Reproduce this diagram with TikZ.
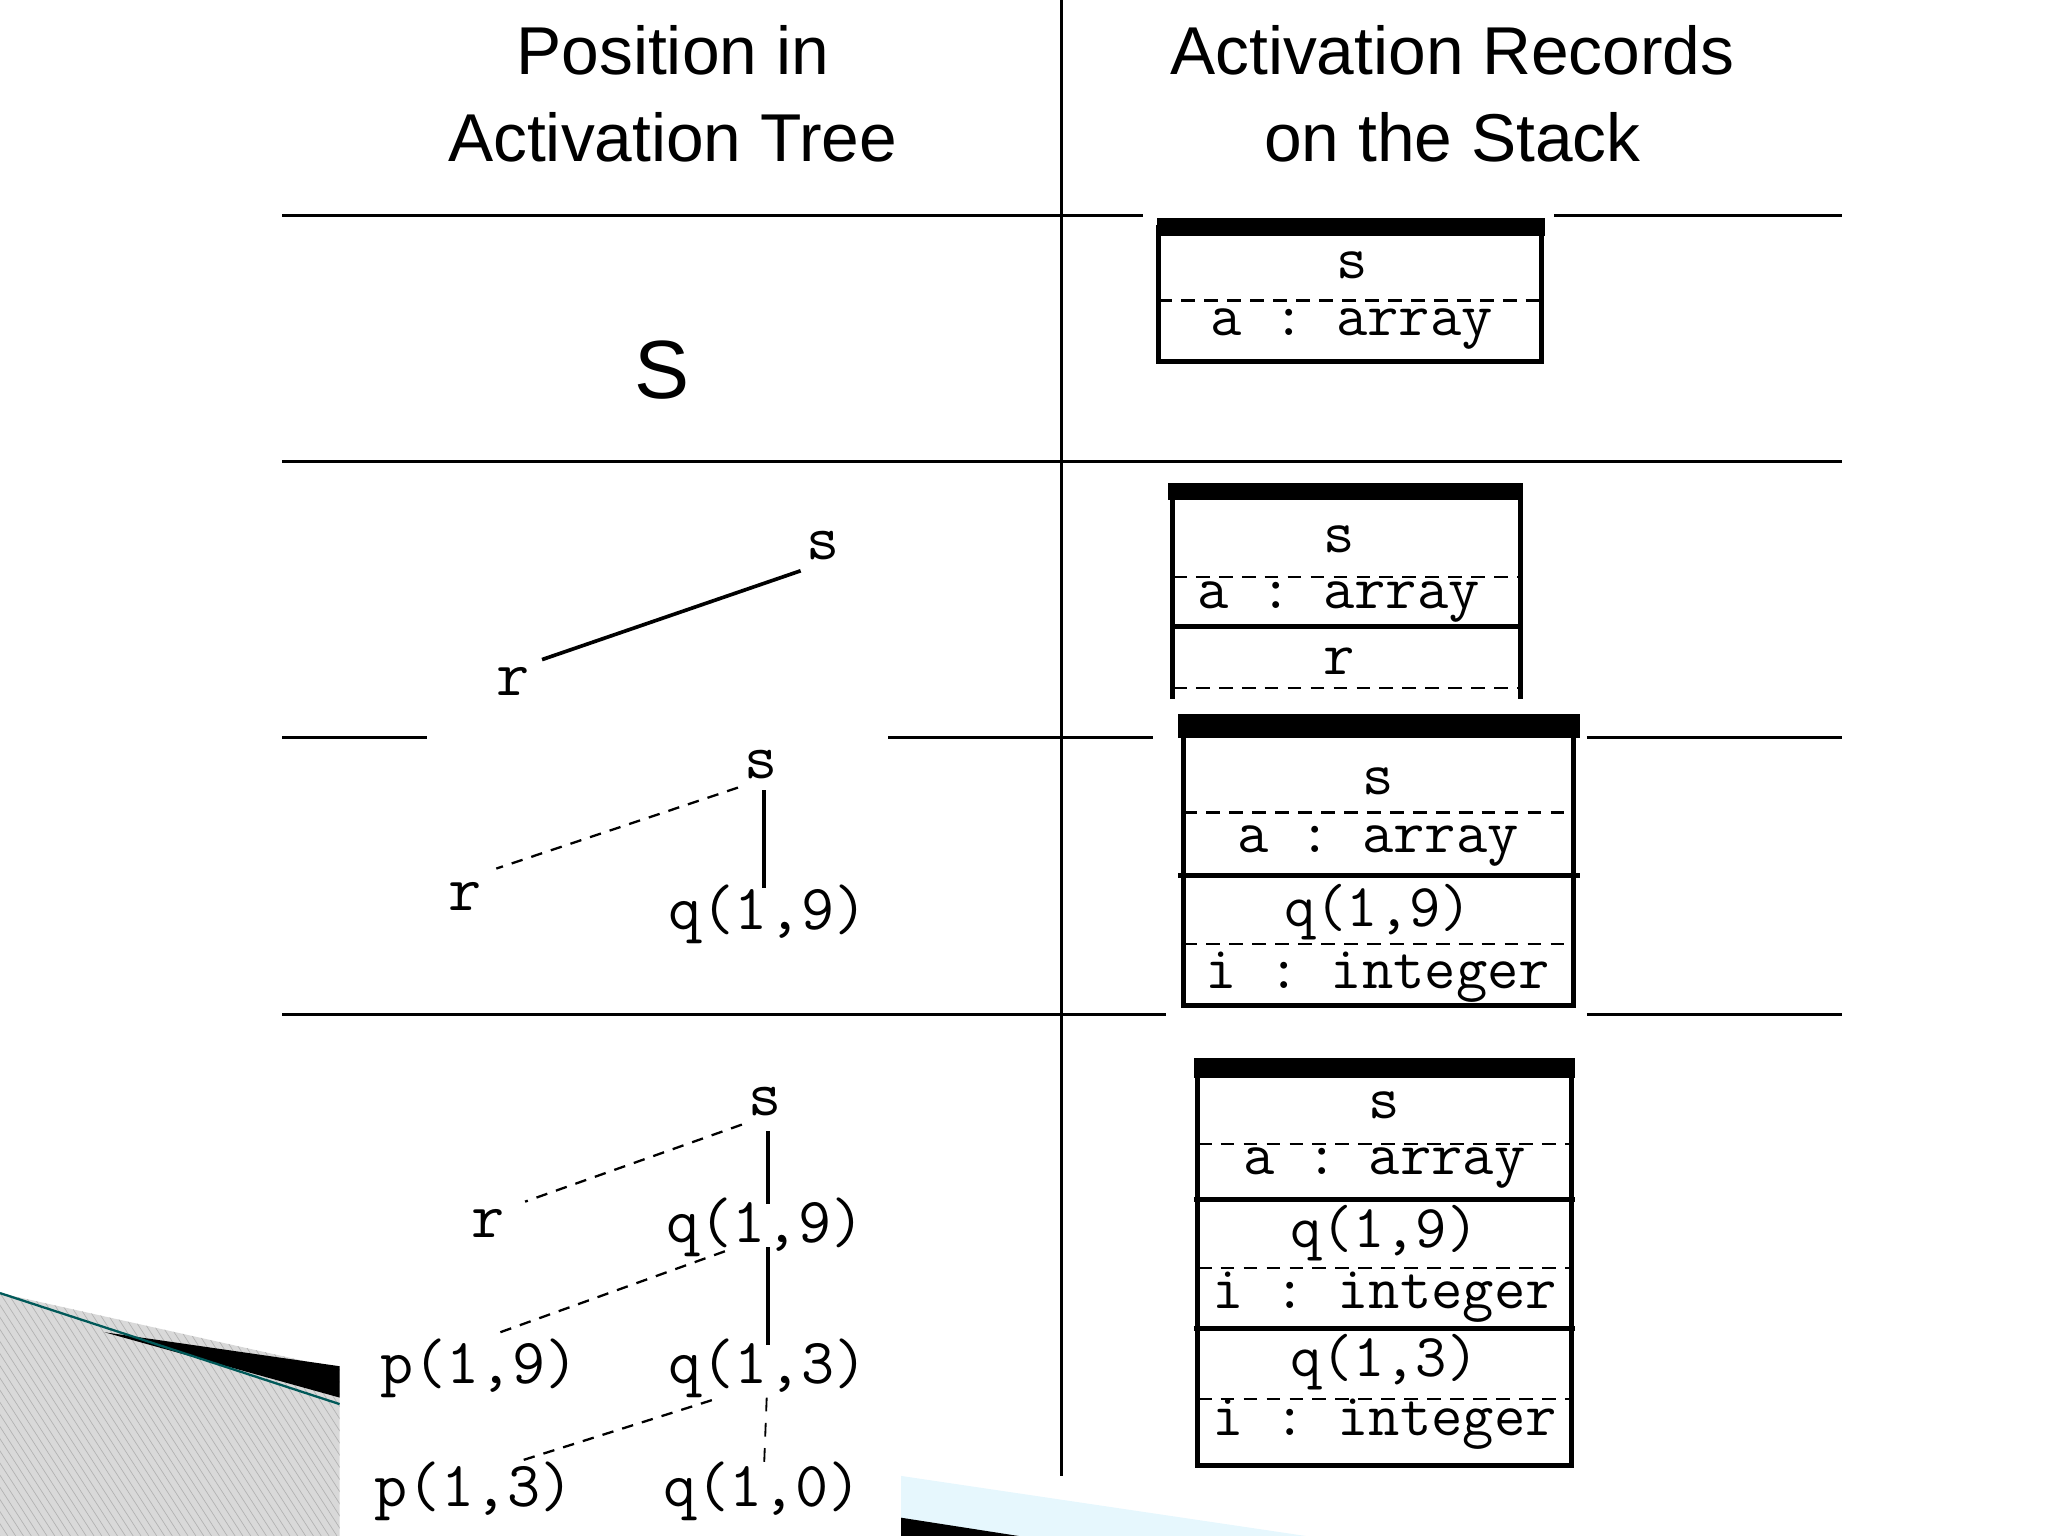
\documentclass[tikz,border=0pt]{standalone}
\usepackage{fontspec}
\setmainfont{Liberation Sans}
\setmonofont{Latin Modern Mono}
\begin{document}
\begin{tikzpicture}[x=0.02cm,y=-0.02cm,
  hdr/.style={font=\fontsize{29.5}{34}\selectfont,align=center},
  mono/.style={font=\fontsize{26.5}{30}\ttfamily,inner sep=1pt},
  tmono/.style={font=\fontsize{28}{32}\ttfamily,inner sep=2pt},
  rule/.style={line width=1.3pt},
  bx/.style={line width=2.2pt},
  bar/.style={fill=black},
  dsh/.style={dash pattern=on 6pt off 4pt,line width=1pt},
  edg/.style={line width=1.6pt},
  dedge/.style={dash pattern=on 5pt off 4pt,line width=1pt}]
\useasboundingbox (0,0) rectangle (1568,1176);
% decoration bottom left
\fill[gray!30] (0,990) -- (260,1048) -- (260,1176) -- (0,1176) -- cycle;
\begin{scope}
\clip (0,990) -- (260,1048) -- (260,1176) -- (0,1176) -- cycle;
\foreach \i in {0,6,...,500} \draw[gray!60,line width=0.3pt] (\i-120,990) -- (\i,1176);
\end{scope}
\fill[black] (80,1020) -- (260,1046) -- (260,1070) -- cycle;
\draw[teal!70!black,line width=1pt] (0,990) -- (260,1075);
\fill[cyan!10] (690,1130) -- (1000,1176) -- (690,1176) -- cycle;
\fill[black] (690,1162) -- (780,1176) -- (690,1176) -- cycle;
% headers
\node[hdr] (h1) at (515,72) {Position in\\[4pt]Activation Tree};
\node[hdr] (h2) at (1112,72) {Activation Records\\[4pt]on the Stack};
% table rules
\draw[rule] (813,0) -- (813,1130);
\draw[rule] (216,165) -- (875,165) (1190,165) -- (1410,165);
\draw[rule] (216,353) -- (1410,353);
\draw[rule] (216,565) -- (327,565) (680,565) -- (883,565) (1215,565) -- (1410,565);
\draw[rule] (216,777) -- (893,777) (1215,777) -- (1410,777);
% row 1
\node[font=\fontsize{36}{40}\selectfont] (bigs) at (507,283) {S};
\draw[bx] (887,174) rectangle (1180,277);
\fill[bar] (886,167) rectangle (1183,181);
\draw[dsh] (887,230) -- (1180,230);
\node[mono] (b1s) at (1035,203) {s};
\node[mono] (b1a) at (1035,252) {a : array};
% row 2
\node[tmono] (t2s) at (630,418) {s};
\node[tmono] (t2r) at (393,522) {r};
\draw[edg] (613,437) -- (415,505);
\fill[bar] (894,370) rectangle (1166,383);
\draw[bx] (898,376) -- (898,535) (1164,376) -- (1164,535);
\draw[dsh] (898,442) -- (1164,442);
\draw[bx] (898,480) -- (1164,480);
\draw[dsh] (898,527) -- (1164,527);
\node[mono] (b2s) at (1025,413) {s};
\node[mono] (b2a) at (1025,461) {a : array};
\node[mono] (b2r) at (1025,506) {r};
% row 3
\node[tmono] (t3s) at (583,585) {s};
\node[tmono] (t3r) at (356,686) {r};
\node[tmono] (t3q) at (588,700) {q(1,9)};
\draw[dedge] (565,603) -- (380,665);
\draw[edg] (585,605) -- (585,680);
\fill[bar] (902,547) rectangle (1210,565);
\draw[bx] (906,556) rectangle (1205,770);
\draw[dsh] (906,622) -- (1205,622);
\draw[bx] (902,670) -- (1210,670);
\draw[dsh] (906,723) -- (1205,723);
\node[mono] (b3s) at (1055,598) {s};
\node[mono] (b3a) at (1055,648) {a : array};
\node[mono] (b3q) at (1055,698) {q(1,9)};
\node[mono] (b3i) at (1055,748) {i : integer};
% row 4
\node[tmono] (s4) at (586,843) {s};
\node[tmono] (r4) at (374,937) {r};
\node[tmono] (q19) at (586,940) {q(1,9)};
\node[tmono] (p19) at (367,1048) {p(1,9)};
\node[tmono] (q13) at (588,1048) {q(1,3)};
\node[tmono] (p13) at (363,1142) {p(1,3)};
\node[tmono] (q10) at (584,1142) {q(1,0)};
\draw[dedge] (568,861) -- (402,920);
\draw[edg] (588,866) -- (588,922);
\draw[dedge] (555,958) -- (383,1020);
\draw[edg] (588,955) -- (588,1030);
\draw[dedge] (545,1072) -- (400,1118);
\draw[dash pattern=on 6pt off 5pt,line width=0.8pt] (587,1070) -- (585,1122);
\fill[bar] (914,810) rectangle (1206,825);
\draw[bx] (917,818) rectangle (1203,1122);
\draw[dsh] (917,876) -- (1203,876);
\draw[bx] (914,918) -- (1206,918);
\draw[dsh] (917,971) -- (1203,971);
\draw[bx] (914,1017) -- (1206,1017);
\draw[dsh] (917,1071) -- (1203,1071);
\node[mono] (b4s) at (1060,846) {s};
\node[mono] (b4a) at (1060,894) {a : array};
\node[mono] (b4q) at (1060,944) {q(1,9)};
\node[mono] (b4i) at (1060,993) {i : integer};
\node[mono] (b4q3) at (1060,1043) {q(1,3)};
\node[mono] (b4i3) at (1060,1090) {i : integer};
\end{tikzpicture}
\end{document}
